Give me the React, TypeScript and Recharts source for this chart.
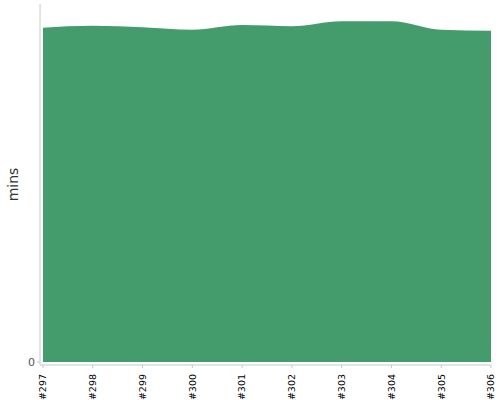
import React from 'react';
import { AreaChart, Area, XAxis, YAxis } from 'recharts';

// build labels and durations (mins)
const builds = ['#297', '#298', '#299', '#300', '#301', '#302', '#303', '#304', '#305', '#306'];
const durations = [93.4, 93.9, 93.5, 92.8, 94.1, 93.8, 95.2, 95.2, 92.8, 92.5];
const yTicks = [0];

const FILL = '#449c6c';
const AXIS = '#c8c8c8';
const FONT = "'DejaVu Sans', sans-serif";

const data = builds.map((build, i) => ({ build, mins: durations[i] }));

// rotated build label, reads bottom-to-top
const BuildTick = (props: any) => {
  const { x, y, payload } = props;
  return (
    <text
      x={x}
      y={y}
      transform={`rotate(-90, ${x}, ${y})`}
      dx={-4}
      dy={3.3}
      textAnchor="end"
      fontSize={9.5}
      fontFamily={FONT}
      fill="#000"
    >
      {payload.value}
    </text>
  );
};

const MinsLabel = (props: any) => {
  const { viewBox } = props;
  const cx = 13;
  const cy = viewBox.y + viewBox.height / 2;
  return (
    <text
      x={cx}
      y={cy}
      transform={`rotate(-90, ${cx}, ${cy})`}
      textAnchor="middle"
      dominantBaseline="central"
      fontSize={14}
      fontFamily={FONT}
      fill="#333"
    >
      mins
    </text>
  );
};

const App: React.FC = () => {
  return (
    <div style={{ position: 'absolute', left: 0, top: 0, width: 500, height: 400, background: '#fff' }}>
      <AreaChart
        width={500}
        height={400}
        data={data}
        margin={{ top: 4, right: 9, left: 0, bottom: 0 }}
      >
        <XAxis
          dataKey="build"
          interval={0}
          height={35}
          padding={{ left: 3, right: 0 }}
          stroke={AXIS}
          tickSize={3}
          tick={<BuildTick />}
        />
        <YAxis
          width={40}
          domain={[0, 100]}
          ticks={yTicks}
          padding={{ top: 0, bottom: 3 }}
          stroke={AXIS}
          tickSize={3}
          tick={{ fontSize: 11, fontFamily: FONT, fill: '#555' }}
          label={<MinsLabel />}
        />
        <Area
          type="monotone"
          dataKey="mins"
          stroke="none"
          fill={FILL}
          fillOpacity={1}
          isAnimationActive={false}
        />
      </AreaChart>
    </div>
  );
};

export default App;
